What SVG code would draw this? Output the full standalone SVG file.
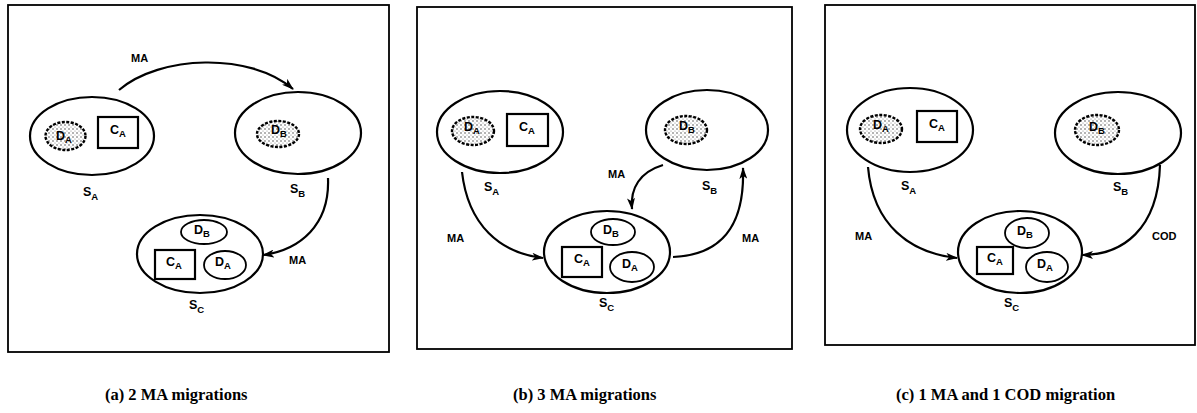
<svg xmlns="http://www.w3.org/2000/svg" width="1197" height="413" viewBox="0 0 1197 413">
<defs>
<pattern id="dots" width="4" height="4" patternUnits="userSpaceOnUse">
<rect width="4" height="4" fill="#fff"/>
<circle cx="1" cy="1" r="0.8" fill="#555"/>
<circle cx="3" cy="3" r="0.6" fill="#888"/>
</pattern>
<marker id="ah" viewBox="0 0 12 8" refX="11" refY="4" markerWidth="12" markerHeight="8" markerUnits="userSpaceOnUse" orient="auto">
<path d="M0,0 L12,4 L0,8 L3,4 z" fill="#000"/>
</marker>
</defs>
<style>
.frame{fill:none;stroke:#000;stroke-width:1.8}
.site{fill:none;stroke:#000;stroke-width:2.2}
.dat{fill:#fff;stroke:#000;stroke-width:1.8}
.dot{fill:url(#dots);stroke:#000;stroke-width:2.4;stroke-dasharray:3 1.5}
.code{fill:#fff;stroke:#000;stroke-width:2.2}
.conn{fill:none;stroke:#000;stroke-width:2.2;marker-end:url(#ah)}
.lbl{font-family:"Liberation Sans",Arial,sans-serif;font-weight:bold;font-size:12.5px;fill:#000}
.sub{font-size:9.5px}
.ml{font-family:"Liberation Sans",Arial,sans-serif;font-weight:bold;font-size:11px;fill:#000}
.cap{font-family:"Liberation Serif","Times New Roman",serif;font-weight:bold;font-size:16.5px;fill:#000}
</style>

<!-- Panel (a) -->
<g id="panel-a">
<rect class="frame" x="8" y="5" width="381" height="347"/>
<g id="a-SA">
<ellipse class="site" cx="92" cy="136" rx="62" ry="39"/>
<ellipse class="dot" cx="65.5" cy="136" rx="20" ry="14"/>
<text class="lbl" x="56" y="140">D<tspan class="sub" dy="3">A</tspan></text>
<rect class="code" x="98" y="117" width="40" height="31"/>
<text class="lbl" x="110" y="134">C<tspan class="sub" dy="3">A</tspan></text>
<text class="lbl" x="83" y="196">S<tspan class="sub" dy="4">A</tspan></text>
</g>
<g id="a-SB">
<ellipse class="site" cx="298" cy="133" rx="63" ry="41"/>
<ellipse class="dot" cx="278" cy="134" rx="21" ry="13"/>
<text class="lbl" x="271" y="134">D<tspan class="sub" dy="3">B</tspan></text>
<text class="lbl" x="290" y="193">S<tspan class="sub" dy="4">B</tspan></text>
</g>
<g id="a-SC">
<ellipse class="site" cx="200" cy="254" rx="63" ry="39"/>
<ellipse class="dat" cx="204" cy="232" rx="23" ry="12"/>
<text class="lbl" x="194" y="234">D<tspan class="sub" dy="3">B</tspan></text>
<rect class="code" x="155" y="250" width="40" height="29"/>
<text class="lbl" x="166" y="266">C<tspan class="sub" dy="3">A</tspan></text>
<ellipse class="dat" cx="225" cy="265" rx="21" ry="14"/>
<text class="lbl" x="215" y="266">D<tspan class="sub" dy="3">A</tspan></text>
<text class="lbl" x="189" y="309">S<tspan class="sub" dy="4">C</tspan></text>
</g>
</g>

<!-- Panel (b) -->
<g id="panel-b">
<rect class="frame" x="417" y="7" width="375" height="342"/>
<g id="b-SA">
<ellipse class="site" cx="500" cy="132" rx="63" ry="41"/>
<ellipse class="dot" cx="473" cy="131" rx="21" ry="14"/>
<text class="lbl" x="464" y="131">D<tspan class="sub" dy="3">A</tspan></text>
<rect class="code" x="507" y="114" width="41" height="32"/>
<text class="lbl" x="519" y="131">C<tspan class="sub" dy="3">A</tspan></text>
<text class="lbl" x="484" y="191">S<tspan class="sub" dy="4">A</tspan></text>
</g>
<g id="b-SB">
<ellipse class="site" cx="707" cy="130" rx="61" ry="40"/>
<ellipse class="dot" cx="686" cy="130" rx="21" ry="14"/>
<text class="lbl" x="679" y="130">D<tspan class="sub" dy="3">B</tspan></text>
<text class="lbl" x="702" y="190">S<tspan class="sub" dy="4">B</tspan></text>
</g>
<g id="b-SC">
<ellipse class="site" cx="607" cy="252" rx="63" ry="41"/>
<ellipse class="dat" cx="613" cy="232" rx="22" ry="13"/>
<text class="lbl" x="603" y="234">D<tspan class="sub" dy="3">B</tspan></text>
<rect class="code" x="562" y="247" width="40" height="30"/>
<text class="lbl" x="574" y="263">C<tspan class="sub" dy="3">A</tspan></text>
<ellipse class="dat" cx="632" cy="267" rx="22" ry="15"/>
<text class="lbl" x="622" y="268">D<tspan class="sub" dy="3">A</tspan></text>
<text class="lbl" x="599" y="307">S<tspan class="sub" dy="4">C</tspan></text>
</g>
</g>

<!-- Panel (c) -->
<g id="panel-c">
<rect class="frame" x="825" y="5" width="370" height="340"/>
<g id="c-SA">
<ellipse class="site" cx="910" cy="130" rx="63" ry="42"/>
<ellipse class="dot" cx="881" cy="129" rx="21" ry="14"/>
<text class="lbl" x="873" y="129">D<tspan class="sub" dy="3">A</tspan></text>
<rect class="code" x="917" y="111" width="40" height="31"/>
<text class="lbl" x="929" y="128">C<tspan class="sub" dy="3">A</tspan></text>
<text class="lbl" x="901" y="190">S<tspan class="sub" dy="4">A</tspan></text>
</g>
<g id="c-SB">
<ellipse class="site" cx="1118" cy="133" rx="63" ry="41"/>
<ellipse class="dot" cx="1097" cy="130" rx="22" ry="15"/>
<text class="lbl" x="1089" y="131">D<tspan class="sub" dy="3">B</tspan></text>
<text class="lbl" x="1113" y="191">S<tspan class="sub" dy="4">B</tspan></text>
</g>
<g id="c-SC">
<ellipse class="site" cx="1020" cy="252" rx="62" ry="41"/>
<ellipse class="dat" cx="1027" cy="233" rx="22" ry="15"/>
<text class="lbl" x="1017" y="235">D<tspan class="sub" dy="3">B</tspan></text>
<rect class="code" x="977" y="247" width="36" height="27"/>
<text class="lbl" x="987" y="262">C<tspan class="sub" dy="3">A</tspan></text>
<ellipse class="dat" cx="1047" cy="267" rx="21" ry="15"/>
<text class="lbl" x="1037" y="268">D<tspan class="sub" dy="3">A</tspan></text>
<text class="lbl" x="1004" y="307">S<tspan class="sub" dy="4">C</tspan></text>
</g>
</g>

<!-- Connectors -->
<g id="connectors">
<path class="conn" d="M119,90 C160,55 250,52 293,89"/>
<path class="conn" d="M328,178 C330,225 300,250 263,255"/>
<path class="conn" d="M462,172 C468,225 500,253 543,258"/>
<path class="conn" d="M663,165 C640,172 630,188 632,209"/>
<path class="conn" d="M673,257 C720,255 745,228 743,168"/>
<path class="conn" d="M868,167 C873,225 910,253 957,258"/>
<path class="conn" d="M1160,165 C1158,230 1122,255 1082,255"/>
</g>

<g id="connector-labels">
<text class="ml" x="131" y="62">MA</text>
<text class="ml" x="289" y="264">MA</text>
<text class="ml" x="447" y="242">MA</text>
<text class="ml" x="608" y="178">MA</text>
<text class="ml" x="742" y="242">MA</text>
<text class="ml" x="855" y="240">MA</text>
<text class="ml" x="1152" y="240">COD</text>
</g>

<g id="captions">
<text class="cap" x="105" y="400">(a) 2 MA migrations</text>
<text class="cap" x="513" y="400">(b) 3 MA migrations</text>
<text class="cap" x="896" y="400">(c) 1 MA and 1 COD migration</text>
</g>
</svg>
